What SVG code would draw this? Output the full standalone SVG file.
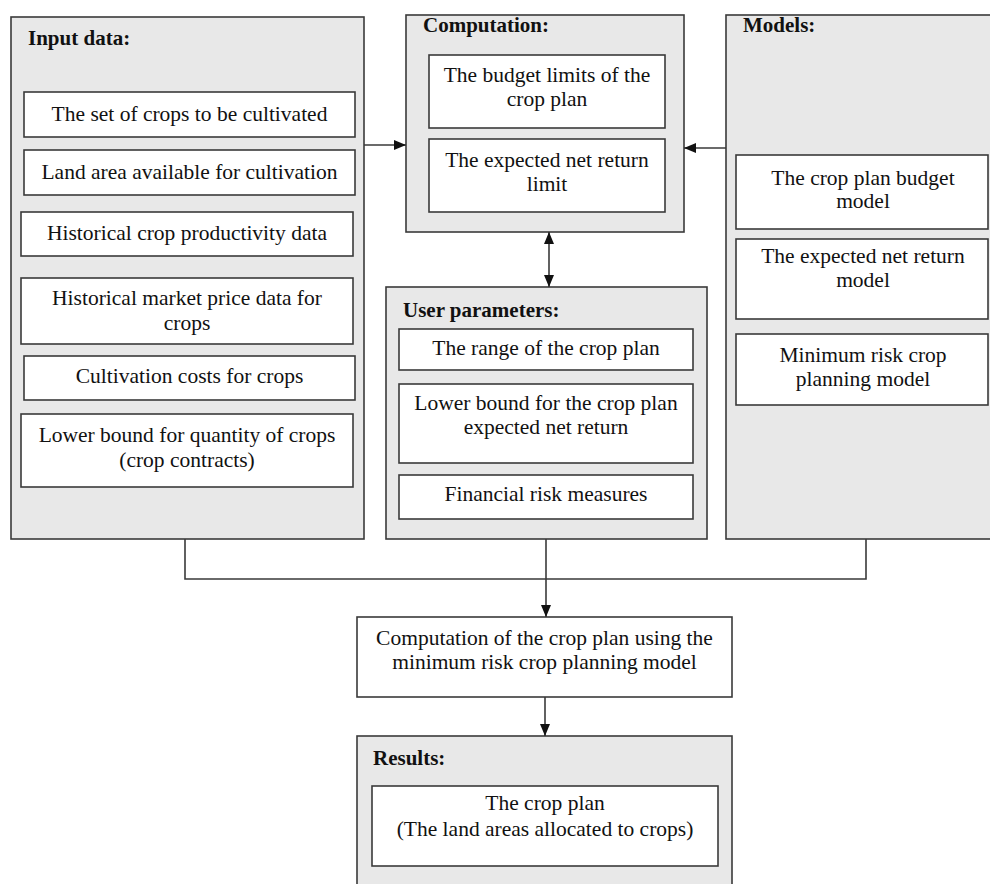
<svg xmlns="http://www.w3.org/2000/svg" width="990" height="884" viewBox="0 0 990 884">
<defs>
<style>
.outer{fill:#e8e8e8;stroke:#3a3a3a;stroke-width:1.6}
.inner{fill:#ffffff;stroke:#3a3a3a;stroke-width:1.6}
.t{font-family:"Liberation Serif","Times New Roman",serif;font-size:21.5px;fill:#111;text-anchor:middle}
.h{font-family:"Liberation Serif","Times New Roman",serif;font-size:21px;font-weight:bold;fill:#111}
.c{fill:none;stroke:#3a3a3a;stroke-width:1.6}
</style>
<marker id="ah" viewBox="0 0 12 10" refX="12" refY="5" markerWidth="12" markerHeight="10" markerUnits="userSpaceOnUse" orient="auto-start-reverse">
<path d="M0,0 L12,5 L0,10 Z" fill="#111"/>
</marker>
</defs>
<rect width="990" height="884" fill="#ffffff"/>

<g id="input-data">
<rect class="outer" x="11" y="17" width="353" height="522"/>
<text class="h" x="28" y="45">Input data:</text>
<rect class="inner" x="24" y="92" width="331" height="45"/>
<text class="t" x="189.5" y="121">The set of crops to be cultivated</text>
<rect class="inner" x="24" y="150" width="331" height="45"/>
<text class="t" x="189.5" y="179">Land area available for cultivation</text>
<rect class="inner" x="21" y="212" width="332" height="44"/>
<text class="t" x="187" y="240">Historical crop productivity data</text>
<rect class="inner" x="21" y="278" width="332" height="66"/>
<text class="t" x="187" y="305">Historical market price data for</text>
<text class="t" x="187" y="330">crops</text>
<rect class="inner" x="24" y="356" width="331" height="44"/>
<text class="t" x="189.5" y="383">Cultivation costs for crops</text>
<rect class="inner" x="21" y="414" width="332" height="73"/>
<text class="t" x="187" y="442">Lower bound for quantity of crops</text>
<text class="t" x="187" y="467">(crop contracts)</text>
</g>

<g id="computation">
<rect class="outer" x="406" y="15" width="278" height="217"/>
<text class="h" x="423" y="32">Computation:</text>
<rect class="inner" x="429" y="55" width="236" height="73"/>
<text class="t" x="547" y="82">The budget limits of the</text>
<text class="t" x="547" y="106">crop plan</text>
<rect class="inner" x="429" y="139" width="236" height="73"/>
<text class="t" x="547" y="167">The expected net return</text>
<text class="t" x="547" y="191">limit</text>
</g>

<g id="models">
<rect class="outer" x="726" y="15" width="270" height="524"/>
<text class="h" x="743" y="32">Models:</text>
<rect class="inner" x="736" y="155" width="252" height="74"/>
<text class="t" x="863" y="185">The crop plan budget</text>
<text class="t" x="863" y="208">model</text>
<rect class="inner" x="736" y="239" width="252" height="80"/>
<text class="t" x="863" y="263">The expected net return</text>
<text class="t" x="863" y="287">model</text>
<rect class="inner" x="736" y="334" width="252" height="71"/>
<text class="t" x="863" y="362">Minimum risk crop</text>
<text class="t" x="863" y="386">planning model</text>
</g>

<g id="user-parameters">
<rect class="outer" x="386" y="287" width="321" height="252"/>
<text class="h" x="403" y="317">User parameters:</text>
<rect class="inner" x="399" y="329" width="294" height="41"/>
<text class="t" x="546" y="355">The range of the crop plan</text>
<rect class="inner" x="399" y="384" width="294" height="79"/>
<text class="t" x="546" y="410">Lower bound for the crop plan</text>
<text class="t" x="546" y="434">expected net return</text>
<rect class="inner" x="399" y="475" width="294" height="44"/>
<text class="t" x="546" y="501">Financial risk measures</text>
</g>

<g id="computation-crop-plan">
<rect class="inner" x="357" y="617" width="375" height="80"/>
<text class="t" x="544.5" y="645">Computation of the crop plan using the</text>
<text class="t" x="544.5" y="669">minimum risk crop planning model</text>
</g>

<g id="results">
<rect class="outer" x="357" y="736" width="375" height="160"/>
<text class="h" x="373" y="765">Results:</text>
<rect class="inner" x="372" y="786" width="346" height="80"/>
<text class="t" x="545" y="810">The crop plan</text>
<text class="t" x="545" y="836">(The land areas allocated to crops)</text>
</g>

<g id="connectors">
<line class="c" x1="364" y1="145" x2="406" y2="145" marker-end="url(#ah)"/>
<line class="c" x1="726" y1="148" x2="684" y2="148" marker-end="url(#ah)"/>
<line class="c" x1="549" y1="232" x2="549" y2="287" marker-start="url(#ah)" marker-end="url(#ah)"/>
<polyline class="c" points="185,539 185,579 866,579 866,539"/>
<line class="c" x1="546" y1="539" x2="546" y2="617" marker-end="url(#ah)"/>
<line class="c" x1="545" y1="697" x2="545" y2="736" marker-end="url(#ah)"/>
</g>
</svg>
